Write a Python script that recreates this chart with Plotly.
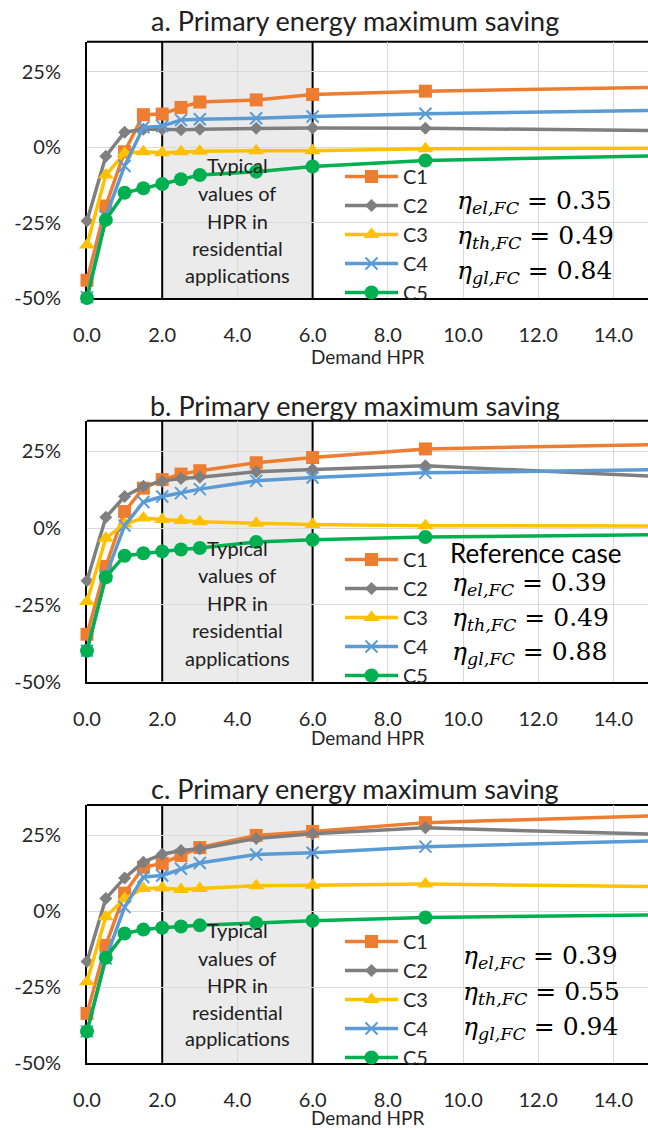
import plotly.graph_objects as go

# ---------------- data ----------------
X = [0, 0.5, 1, 1.5, 2, 2.5, 3, 4.5, 6, 9, 15]
SERIES = ["C1", "C2", "C3", "C4", "C5"]

A_C1 = [-44.1, -19.5, -1.5, 10.8, 11.0, 13.2, 15.0, 15.7, 17.5, 18.6, 19.8]
A_C2 = [-24.5, -3.0, 5.0, 6.0, 6.0, 5.8, 6.0, 6.3, 6.4, 6.3, 5.5]
A_C3 = [-32.4, -9.2, -2.0, -1.5, -1.8, -1.5, -1.3, -1.2, -1.2, -0.5, -0.3]
A_C4 = [-49.7, -23.0, -6.2, 6.6, 7.0, 9.0, 9.3, 9.6, 10.2, 11.1, 12.2]
A_C5 = [-50.0, -24.1, -15.1, -13.6, -12.2, -10.6, -9.2, -8.1, -6.4, -4.4, -2.9]

B_C1 = [-34.6, -12.5, 5.4, 13.0, 15.8, 17.6, 18.7, 21.3, 23.0, 25.8, 27.2]
B_C2 = [-17.2, 3.5, 10.3, 13.6, 15.3, 16.2, 16.6, 18.4, 19.1, 20.3, 16.9]
B_C3 = [-23.9, -3.3, 1.3, 3.3, 2.8, 2.5, 2.1, 1.6, 1.2, 0.8, 0.7]
B_C4 = [-40.0, -15.5, 0.8, 8.5, 10.3, 11.4, 12.7, 15.4, 16.5, 18.0, 19.0]
B_C5 = [-40.0, -16.0, -9.0, -8.2, -7.6, -7.0, -6.5, -4.5, -3.8, -2.9, -2.2]

C_C1 = [-33.6, -11.2, 6.0, 14.5, 15.8, 18.4, 21.0, 25.0, 26.3, 29.2, 31.4]
C_C2 = [-16.5, 4.2, 11.0, 16.2, 18.8, 20.0, 20.6, 24.0, 25.5, 27.5, 25.4]
C_C3 = [-23.2, -1.8, 4.2, 7.5, 7.7, 7.2, 7.5, 8.4, 8.6, 9.0, 8.2]
C_C4 = [-39.5, -15.5, 1.4, 11.3, 11.8, 14.0, 15.9, 18.7, 19.3, 21.3, 23.2]
C_C5 = [-39.5, -15.3, -7.3, -6.0, -5.4, -5.0, -4.6, -3.8, -3.1, -2.0, -1.2]

PANEL_TITLES = ["a. Primary energy maximum saving",
                "b. Primary energy maximum saving",
                "c. Primary energy maximum saving"]
ETA_EL = ["0.35", "0.39", "0.39"]
ETA_TH = ["0.49", "0.49", "0.55"]
ETA_GL = ["0.84", "0.88", "0.94"]
Y_TICKS = [-50, -25, 0, 25]
Y_TICK_TEXT = ["-50%", "-25%", "0%", "25%"]
X_TICKS = [0, 2, 4, 6, 8, 10, 12, 14]
X_GRID = [4, 8, 10, 12, 14]
BOX_LINES = ["Typical", "values of", "HPR in", "residential", "applications"]

PANELS = [
    [A_C1, A_C2, A_C3, A_C4, A_C5],
    [B_C1, B_C2, B_C3, B_C4, B_C5],
    [C_C1, C_C2, C_C3, C_C4, C_C5],
]

# ---------------- styles ----------------
W, H = 648, 1130
FONT = "Lato"
COLORS = ["#ED7D31", "#7F7F7F", "#FFC000", "#5B9BD5", "#00B050"]
SYMBOLS = ["square", "diamond", "triangle-up", "x-thin", "circle"]
SIZES = [13, 10, 14, 12, 14]
GRID = "#D9D9D9"

def py(px):  # pixel from top -> paper y
    return 1 - px / H

def pxx(px):
    return px / W

PLOT_LEFT = 87
PLOT_TB = [(41.7, 298.0), (420.7, 681.5), (805.0, 1063.3)]
TITLE_Y = [20, 405, 788]
XTITLE_Y = [356, 737, 1117]
LEGEND_TOP = [157, 540, 922]
BOX_TEXT_Y = [[165, 193, 221, 248, 275],
              [548, 575, 603, 630, 658],
              [930, 958, 985, 1012, 1038]]
ETA_Y = [[202, 237, 272], [584, 619, 653], [957, 993, 1028]]
ETA_X = [455, 450, 461]

fig = go.Figure()
layout = dict(
    width=W, height=H, margin=dict(l=0, r=0, t=0, b=0, autoexpand=False),
    paper_bgcolor="white", plot_bgcolor="white",
    font=dict(family=FONT, color="#262626"),
    showlegend=True, shapes=[], annotations=[],
)

for p in range(3):
    sfx = "" if p == 0 else str(p + 1)
    xa, ya = "x" + sfx, "y" + sfx
    leg = "legend" + sfx
    top, bot = PLOT_TB[p]
    for i, name in enumerate(SERIES):
        mk = dict(symbol=SYMBOLS[i], size=SIZES[i], color=COLORS[i])
        if SYMBOLS[i] == "x-thin":
            mk["line"] = dict(color=COLORS[i], width=2)
        fig.add_trace(go.Scatter(
            x=X, y=PANELS[p][i], name=name, mode="lines+markers",
            line=dict(color=COLORS[i], width=3.5), marker=mk,
            xaxis=xa, yaxis=ya, legend=leg, cliponaxis=False,
        ))
    layout["xaxis" + sfx] = dict(
        domain=[pxx(PLOT_LEFT), 1], range=[0, 14.92], anchor=ya, automargin=False,
        tickmode="array", tickvals=X_TICKS, tickformat=".1f", showgrid=False,
        minor=dict(tickmode="array", tickvals=X_GRID, showgrid=True,
                   gridcolor=GRID, gridwidth=1, ticks=""),
        showline=True, linecolor="black", linewidth=2,
        zeroline=False, ticks="", ticklabelstandoff=18,
        tickfont=dict(family=FONT, size=20, color="#262626"),
        layer="below traces",
    )
    layout["yaxis" + sfx] = dict(
        domain=[py(bot), py(top)], range=[-50, 35], anchor=xa, automargin=False,
        tickvals=Y_TICKS, ticktext=Y_TICK_TEXT, showgrid=True,
        gridcolor=GRID, gridwidth=1, showline=True, linecolor="black",
        linewidth=2, zeroline=False, ticks="", ticklabelstandoff=20,
        tickfont=dict(family=FONT, size=20, color="#262626"),
        layer="below traces",
    )
    layout[leg] = dict(
        x=pxx(340), y=py(LEGEND_TOP[p]), xanchor="left", yanchor="top",
        bgcolor="rgba(0,0,0,0)", font=dict(family=FONT, size=20, color="#262626"),
        itemwidth=53,
    )
    # shaded typical HPR region
    layout["shapes"].append(dict(type="rect", xref=xa, yref=ya + " domain",
                                 x0=2, x1=6, y0=0, y1=1, fillcolor="#EBEBEB",
                                 line=dict(width=0), layer="below"))
    # top border
    layout["shapes"].append(dict(type="line", xref=xa + " domain", yref=ya + " domain",
                                 x0=0, x1=1, y0=1, y1=1,
                                 line=dict(color="black", width=2), layer="below"))
    for xv in (2, 6):
        layout["shapes"].append(dict(type="line", xref=xa, yref=ya + " domain",
                                     x0=xv, x1=xv, y0=0, y1=1,
                                     line=dict(color="black", width=2), layer="below"))
    # title
    layout["annotations"].append(dict(text=PANEL_TITLES[p], xref="paper", yref="paper",
                                      x=pxx(355), y=py(TITLE_Y[p]), xanchor="center",
                                      yanchor="middle", showarrow=False,
                                      font=dict(family=FONT, size=27, color="#202020")))
    # x axis title
    layout["annotations"].append(dict(text="Demand HPR", xref="paper", yref="paper",
                                      x=pxx(367), y=py(XTITLE_Y[p]), xanchor="center",
                                      yanchor="middle", showarrow=False,
                                      font=dict(family=FONT, size=19, color="#262626")))
    # box text
    for line, yy in zip(BOX_LINES, BOX_TEXT_Y[p]):
        layout["annotations"].append(dict(text=line, xref=xa, yref="paper",
                                          x=4, y=py(yy), xanchor="center", yanchor="middle",
                                          showarrow=False,
                                          font=dict(family=FONT, size=20, color="#202020")))
    # eta text
    etas = [("el", ETA_EL[p]), ("th", ETA_TH[p]), ("gl", ETA_GL[p])]
    for (sub, val), yy in zip(etas, ETA_Y[p]):
        layout["annotations"].append(dict(
            text="<i>η</i><sub><i>%s,FC</i></sub> = %s" % (sub, val),
            xref="paper", yref="paper", x=pxx(ETA_X[p]), y=py(yy),
            xanchor="left", yanchor="middle", showarrow=False,
            font=dict(family="DejaVu Serif", size=25, color="black")))
    if p == 1:
        layout["annotations"].append(dict(text="Reference case", xref="paper", yref="paper",
                                          x=pxx(448), y=py(553), xanchor="left",
                                          yanchor="middle", showarrow=False,
                                          font=dict(family=FONT, size=26, color="black")))

fig.update_layout(**layout)
fig.write_html("out.html")
